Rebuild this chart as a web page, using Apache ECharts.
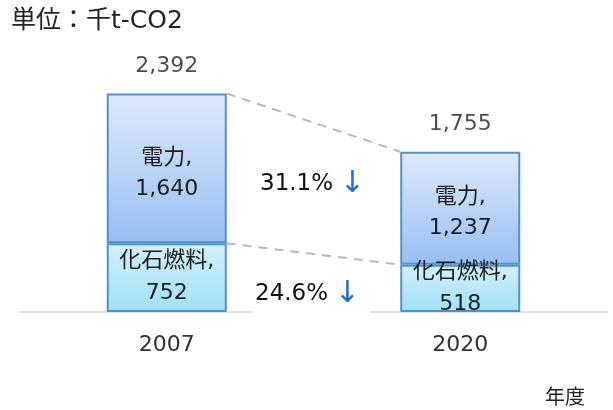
<!DOCTYPE html>
<html>
<head>
<meta charset="utf-8">
<script src="https://cdn.jsdelivr.net/npm/echarts@6/dist/echarts.min.js"></script>
<style>
html,body{margin:0;padding:0;background:#fff;}
#chart{width:613px;height:410px;}
</style>
</head>
<body>
<div id="chart"></div>
<script>
const categories = ['2007', '2020'];
const fossil = [752, 518];
const electric = [1640, 1237];
const totals = [2392, 1755];
const fossilName = '化石燃料';
const electricName = '電力';
const changeLabels = ['31.1%', '24.6%'];
const unitLabel = '単位：千t-CO2';
const axisName = '年度';

const FONT = '"DejaVu Sans", "Noto Sans CJK JP", sans-serif';
const fmt = v => v.toLocaleString('en-US');
const chart = echarts.init(document.getElementById('chart'));

const connectorData = [
  [totals[0], totals[1]],
  [fossil[0], fossil[1]]
];

const option = {
  backgroundColor: '#fff',
  animation: false,
  textStyle: { fontFamily: FONT },
  grid: { left: 20, right: 6, top: 38, bottom: 98 },
  xAxis: {
    type: 'category',
    data: categories,
    axisLine: { show: true, lineStyle: { color: '#e2e2e2', width: 2 } },
    axisTick: { show: false },
    axisLabel: { fontSize: 22, color: '#333', margin: 22, fontFamily: FONT }
  },
  yAxis: {
    type: 'value', min: 0, max: 3000, show: false,
    splitLine: { show: false }
  },
  series: [
    {
      name: fossilName, type: 'bar', stack: 'total', barWidth: 120, z: 3,
      data: fossil,
      itemStyle: {
        color: new echarts.graphic.LinearGradient(0, 0, 0, 1, [
          { offset: 0, color: '#d3f0fb' }, { offset: 1, color: '#9ee1f7' }
        ]),
        borderColor: '#4f92c9', borderWidth: 2
      },
      label: {
        show: true, position: 'inside', fontSize: 22, lineHeight: 32, color: '#1e1e1e',
        fontFamily: FONT,
        formatter: p => fossilName + ',\n' + fmt(p.value)
      }
    },
    {
      name: electricName, type: 'bar', stack: 'total', barWidth: 120, z: 3,
      data: electric,
      itemStyle: {
        color: new echarts.graphic.LinearGradient(0, 0, 0, 1, [
          { offset: 0, color: '#dfeafb' }, { offset: 1, color: '#97bef3' }
        ]),
        borderColor: '#4f92c9', borderWidth: 2
      },
      label: {
        show: true, position: 'inside', fontSize: 22, lineHeight: 31, color: '#1e1e1e',
        fontFamily: FONT, offset: [0, 5],
        formatter: p => electricName + ',\n' + fmt(p.value)
      }
    },
    {
      type: 'scatter', symbolSize: 0, z: 4,
      data: totals.map((t, i) => [i, t]),
      label: {
        show: true, position: 'top', distance: 16, fontSize: 22, color: '#1e1e1e',
        fontFamily: FONT,
        formatter: p => fmt(p.value[1])
      }
    },
    {
      type: 'custom', z: 2, silent: true,
      data: connectorData,
      renderItem: function (params, api) {
        const p1 = api.coord([0, api.value(0)]);
        const p2 = api.coord([1, api.value(1)]);
        return {
          type: 'line',
          shape: { x1: p1[0] + 60, y1: p1[1], x2: p2[0] - 60, y2: p2[1] },
          style: { stroke: '#bdb7b1', lineWidth: 2, lineDash: [9, 7] }
        };
      }
    }
  ],
  graphic: [
    {
      type: 'text', left: 11, top: 9,
      style: { text: unitLabel, fontSize: 25, fill: '#222', fontFamily: FONT }
    },
    {
      type: 'text', left: 260, top: 169,
      style: {
        text: '{v|' + changeLabels[0] + '}  {a|↓}',
        rich: {
          v: { fontSize: 23, fill: '#111', fontFamily: FONT },
          a: { fontSize: 30, fill: '#1e6fd1', fontFamily: FONT }
        }
      }
    },
    {
      type: 'text', left: 252, top: 277, z: 10,
      style: {
        text: '{v|' + changeLabels[1] + '}  {a|↓}',
        backgroundColor: '#fff',
        padding: [2, 10, 6, 3],
        rich: {
          v: { fontSize: 23, fill: '#111', fontFamily: FONT },
          a: { fontSize: 30, fill: '#1e6fd1', fontFamily: FONT }
        }
      }
    },
    {
      type: 'text', left: 545, top: 389,
      style: { text: axisName, fontSize: 20, fill: '#222', fontFamily: FONT }
    }
  ]
};
chart.setOption(option);
</script>
</body>
</html>
